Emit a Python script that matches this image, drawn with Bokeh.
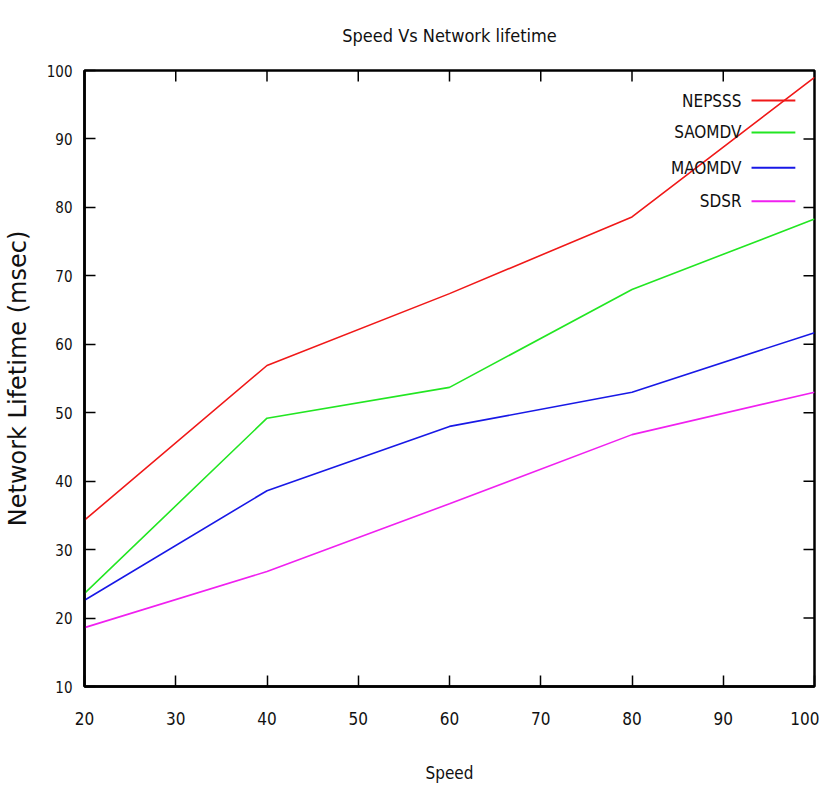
import math
from bokeh.plotting import figure
from bokeh.models import Range1d, FixedTicker, Label
from bokeh.embed import file_html
from bokeh.resources import INLINE
from bokeh.core.properties import value

speed = [20, 40, 60, 80, 100]
nepsss = [34.3, 56.9, 67.4, 78.6, 99.0]
saomdv = [23.6, 49.2, 53.7, 68.0, 78.3]
maomdv = [22.6, 38.6, 48.0, 53.0, 61.7]
sdsr = [18.6, 26.8, 36.7, 46.8, 53.0]

series_names = ["NEPSSS", "SAOMDV", "MAOMDV", "SDSR"]
series_values = [nepsss, saomdv, maomdv, sdsr]
series_colors = ["#f01818", "#22e622", "#1818e6", "#f020f0"]

x_ticks = [20, 30, 40, 50, 60, 70, 80, 90, 100]
y_ticks = [10, 20, 30, 40, 50, 60, 70, 80, 90, 100]
title_text = "Speed Vs Network lifetime"

NARROW = "'DejaVu Sans Condensed', 'Liberation Sans Narrow', 'DejaVu Sans', sans-serif"
TXT = "#111111"

X0, X1 = x_ticks[0], x_ticks[-1]
Y0, Y1 = y_ticks[0], y_ticks[-1]

p = figure(width=819, height=790, output_backend="svg", toolbar_location=None,
           x_range=Range1d(X0, X1), y_range=Range1d(Y0, Y1),
           min_border_left=80, min_border_right=5, min_border_top=70, min_border_bottom=104,
           title=title_text)
p.grid.visible = False
p.background_fill_color = "white"
p.border_fill_color = "white"
p.outline_line_color = "black"
p.outline_line_width = 2.5

p.title.align = "center"
p.title.text_font = NARROW
p.title.text_font_size = "18px"
p.title.text_font_style = "normal"
p.title.text_color = TXT
p.title.vertical_align = "top"
p.title.offset = 0
p.title.standoff = 46

bx = p.below[0]
ly = p.left[0]

for ax in (bx, ly):
    ax.axis_line_color = "black"
    ax.axis_line_width = 2.5
    ax.major_tick_in = 11
    ax.major_tick_out = 0
    ax.major_tick_line_width = 1.5
    ax.minor_tick_line_color = None

bx.ticker = FixedTicker(ticks=x_ticks)
ly.ticker = FixedTicker(ticks=y_ticks)
bx.major_label_text_font = NARROW
bx.major_label_text_font_size = "17px"
bx.major_label_standoff = 25
bx.major_label_text_color = TXT
ly.major_label_text_font = NARROW
ly.major_label_text_font_size = "15px"
ly.major_label_standoff = 12
ly.major_label_text_color = TXT

bx.axis_label = "Speed"
bx.axis_label_text_font = NARROW
bx.axis_label_text_font_size = "17px"
bx.axis_label_text_font_style = "normal"
bx.axis_label_standoff = 35
bx.axis_label_text_color = TXT

ly.axis_label = "Network Lifetime (msec)"
ly.axis_label_text_font = "DejaVu Sans"
ly.axis_label_text_font_size = "24px"
ly.axis_label_text_font_style = "normal"
ly.axis_label_standoff = 12
ly.axis_label_text_color = TXT

# mirrored inward ticks on top and right edges
p.ray(x=x_ticks[1:-1], y=[Y1] * (len(x_ticks) - 2), length=11, length_units="screen",
      angle=-math.pi / 2, line_color="black", line_width=1.5)
p.ray(x=[X1] * (len(y_ticks) - 2), y=y_ticks[1:-1], length=11, length_units="screen",
      angle=math.pi, line_color="black", line_width=1.5)

for name, vals, col in zip(series_names, series_values, series_colors):
    p.line(speed, vals, line_color=col, line_width=1.6)

# legend (text right-aligned, sample line to the right)
leg_text_x = 92.0
leg_line_x0 = 93.1
leg_line_x1 = 97.9
leg_y = [95.6, 90.95, 85.8, 80.9]
for name, col, yy in zip(series_names, series_colors, leg_y):
    p.add_layout(Label(x=leg_text_x, y=yy, text=name, text_align="right",
                       text_baseline="middle", text_font=NARROW,
                       text_font_size="17px", text_color=TXT))
    p.segment(x0=[leg_line_x0], y0=[yy], x1=[leg_line_x1], y1=[yy],
              line_color=col, line_width=2)

open("out.html", "w").write(file_html(p, INLINE))
